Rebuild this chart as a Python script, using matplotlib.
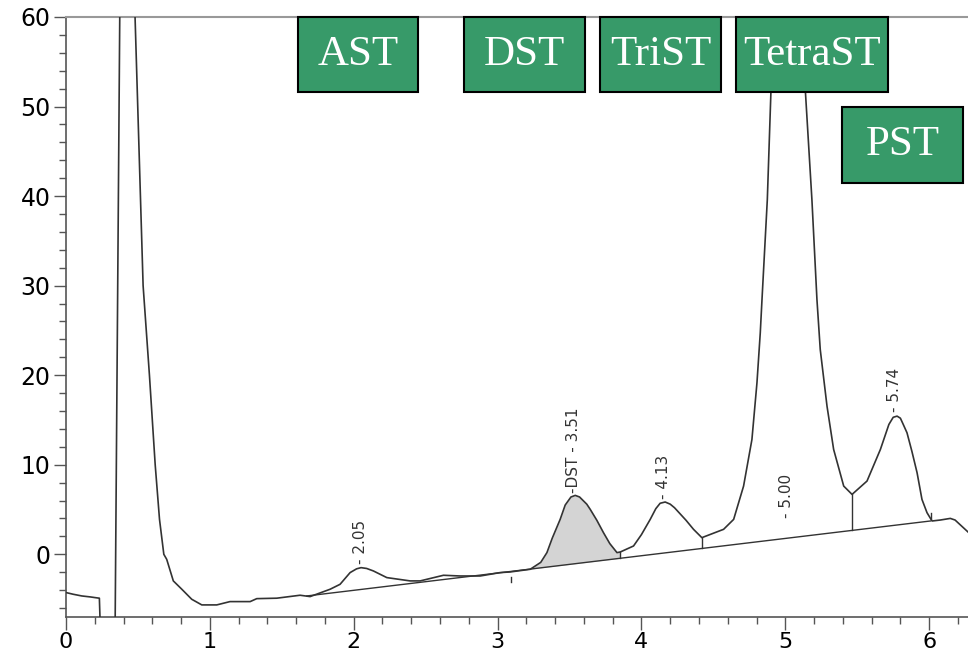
import numpy as np
import matplotlib
matplotlib.use("Agg")
import matplotlib.pyplot as plt
from matplotlib.patches import Rectangle
from matplotlib.ticker import MultipleLocator

# ── data ─────────────────────────────────────────────────────────────────────

time = [0.00, 0.05, 0.11, 0.17, 0.20, 0.232, 0.24, 0.341, 0.376, 0.48,
        0.536, 0.58, 0.62, 0.65, 0.68, 0.70, 0.746, 0.805, 0.874, 0.944,
        1.048, 1.14, 1.28, 1.326, 1.465, 1.627, 1.697, 1.836, 1.905, 1.975,
        2.02, 2.051, 2.09, 2.137, 2.23, 2.392, 2.462, 2.624, 2.74, 2.879,
        3.018, 3.088, 3.227, 3.30, 3.343, 3.38, 3.435, 3.47, 3.51, 3.54,
        3.57, 3.62, 3.644, 3.69, 3.736, 3.78, 3.83, 3.853, 3.945, 4.00,
        4.061, 4.10, 4.13, 4.165, 4.20, 4.23, 4.27, 4.31, 4.362, 4.42,
        4.571, 4.641, 4.71, 4.768, 4.803, 4.826, 4.838, 4.875, 4.90, 4.93,
        5.02, 5.11, 5.14, 5.185, 5.22, 5.243, 5.29, 5.336, 5.406, 5.464,
        5.568, 5.661, 5.72, 5.75, 5.777, 5.80, 5.82, 5.846, 5.88, 5.916,
        5.95, 5.985, 6.02, 6.078, 6.147, 6.18, 6.275]
signal = [-4.27, -4.46, -4.65, -4.76, -4.83, -4.90, -9.0, -9.0, 65.0, 60.0,
          30.0, 20.0, 10.0, 3.9, 0.0, -0.56, -2.97, -3.90, -5.02, -5.65,
          -5.65, -5.28, -5.28, -4.95, -4.90, -4.57, -4.72, -3.90, -3.35, -2.04,
          -1.62, -1.49, -1.58, -1.86, -2.60, -2.97, -2.97, -2.34, -2.42, -2.42,
          -2.04, -1.97, -1.67, -0.90, 0.19, 1.80, 3.90, 5.50, 6.40, 6.58,
          6.40, 5.60, 5.02, 3.80, 2.42, 1.20, 0.19, 0.26, 0.93, 2.20,
          3.90, 5.10, 5.70, 5.84, 5.60, 5.20, 4.50, 3.80, 2.79, 1.86,
          2.79, 3.90, 7.62, 12.82, 19.15, 24.72, 28.44, 39.6, 51.6, 62.0,
          80.0, 62.0, 51.6, 39.6, 28.44, 22.86, 16.54, 11.71, 7.62, 6.69,
          8.18, 11.71, 14.50, 15.30, 15.43, 15.20, 14.50, 13.57, 11.50, 9.11,
          6.13, 4.65, 3.72, 3.83, 4.01, 3.83, 2.42]

# integration baseline (start / end)
base_x = [1.674, 6.008]
base_y = [-4.65, 3.72]

# shaded DST area and valley drop lines
dst_range = (3.09, 3.853)
drop_x = [3.853, 4.42, 5.464]
marks_below = [3.09]
marks_above = [6.01]

# retention time labels
peak_text = ["- 2.05", "-DST - 3.51", "- 4.13", "- 5.00", "- 5.74"]
peak_x = [2.05, 3.53, 4.15, 5.01, 5.76]
peak_y = [-1.1, 6.9, 6.2, 4.0, 15.9]

# green annotation boxes (figure pixels: x0, y0 top, x1, y1 bottom)
box_labels = ["AST", "DST", "TriST", "TetraST", "PST"]
box_px = [(298, 17, 418, 92), (464, 17, 585, 92), (600, 17, 721, 92),
          (736, 17, 888, 92), (842, 107, 963, 183)]

W, H = 968, 653
LINE = "#333333"

# ── figure ───────────────────────────────────────────────────────────────────

fig = plt.figure(figsize=(W / 100, H / 100), dpi=100)
ax = fig.add_axes([66 / W, 1 - 617 / H, 1 - 66 / W, (617 - 17) / H])

ax.plot(time, signal, color=LINE, linewidth=1.2, zorder=3)

def base(x):
    return np.interp(x, base_x, base_y)

ax.plot(base_x, base_y, color=LINE, linewidth=1.0, zorder=2)

xx = np.linspace(dst_range[0], dst_range[1], 200)
curve = np.interp(xx, time, signal)
ax.fill_between(xx, base(xx), np.maximum(curve, base(xx)),
                color="#d4d4d4", linewidth=0, zorder=1)

for x in drop_x:
    ax.plot([x, x], [base(x), np.interp(x, time, signal)],
            color=LINE, linewidth=1.0, zorder=2)
for x in marks_below:
    ax.plot([x, x], [base(x) - 0.6, base(x) - 1.2], color=LINE, linewidth=1.0)
for x in marks_above:
    ax.plot([x, x], [base(x) + 0.2, base(x) + 0.9], color=LINE, linewidth=1.0)

for t, x, y in zip(peak_text, peak_x, peak_y):
    ax.text(x, y, t, rotation=90, ha="center", va="bottom",
            fontsize=11, color=LINE, family="DejaVu Sans")

ax.set_xlim(0, 6.27)
ax.set_ylim(-7, 60)
ax.xaxis.set_major_locator(MultipleLocator(1))
ax.xaxis.set_minor_locator(MultipleLocator(0.2))
ax.yaxis.set_major_locator(MultipleLocator(10))
ax.yaxis.set_minor_locator(MultipleLocator(2))
ax.tick_params(which="major", length=9, width=1.0, color="#555555", pad=2)
ax.tick_params(which="minor", length=5, width=1.0, color="#555555")
ax.tick_params(axis="y", which="major", labelsize=17)
ax.tick_params(axis="x", which="major", labelsize=16, pad=1.5)

ax.spines["right"].set_visible(False)
ax.spines["top"].set_color("#999999")
ax.spines["top"].set_linewidth(1.5)
for s in ("left", "bottom"):
    ax.spines[s].set_color("#555555")
    ax.spines[s].set_linewidth(1.2)

for label, (x0, y0, x1, y1) in zip(box_labels, box_px):
    fig.patches.append(Rectangle((x0 / W, 1 - y1 / H), (x1 - x0) / W, (y1 - y0) / H,
                                 transform=fig.transFigure, facecolor="#379a69",
                                 edgecolor="black", linewidth=1.5, zorder=5))
    fig.text((x0 + x1) / 2 / W, 1 - (y0 + y1) / 2 / H, label, ha="center",
             va="center", color="white", fontsize=31,
             family="Liberation Serif", zorder=6)

fig.savefig("out.png", dpi=100)
